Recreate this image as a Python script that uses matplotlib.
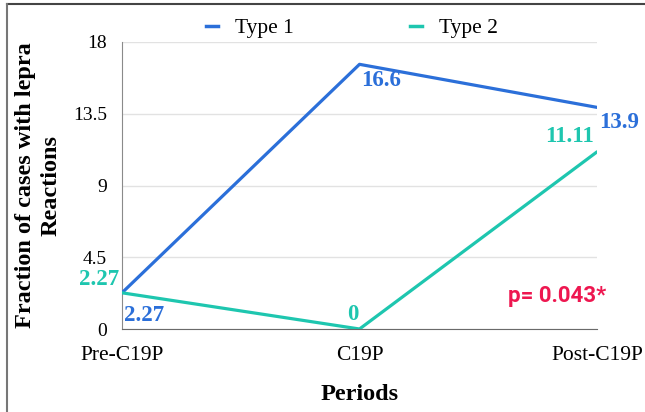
import matplotlib
matplotlib.use("Agg")
import matplotlib.pyplot as plt
from matplotlib.lines import Line2D

periods = ["Pre-C19P", "C19P", "Post-C19P"]
type1 = [2.27, 16.6, 13.9]
type2 = [2.27, 0, 11.11]
yticks = [0, 4.5, 9, 13.5, 18]
ytick_labels = ["0", "4.5", "9", "13.5", "18"]

blue = "#2b6fd9"
teal = "#1ec6af"
red = "#ee1750"
serif = "Liberation Serif"

fig = plt.figure(figsize=(6.45, 4.12), dpi=100)
ax = fig.add_axes([122 / 645, 1 - 329 / 412, 475 / 645, 287 / 412])

x = list(range(len(periods)))
ax.plot(x, type1, color=blue, lw=2.3, solid_capstyle="round", zorder=3)
ax.plot(x, type2, color=teal, lw=2.3, solid_capstyle="round", zorder=3)

ax.set_xlim(0, 2)
ax.set_ylim(0, 18)
ax.set_xticks(x)
ax.set_xticklabels(periods, fontfamily=serif, fontsize=15.5)
ax.set_yticks(yticks)
ax.set_yticklabels(ytick_labels, fontfamily=serif, fontsize=14)
ax.tick_params(axis="both", length=0)
ax.tick_params(axis="x", pad=12)
ax.tick_params(axis="y", pad=11)
ax.grid(axis="y", color="#e2e2e2", lw=1)
ax.set_axisbelow(True)
for s in ["top", "right"]:
    ax.spines[s].set_visible(False)
ax.spines["left"].set_color("#8a8a8a")
ax.spines["bottom"].set_color("#6a6a6a")

ax.set_xlabel("Periods", fontfamily=serif, fontsize=17.5, fontweight="bold", labelpad=14)
ax.set_ylabel("Fraction of cases with lepra\nReactions", fontfamily=serif, fontsize=17.5,
              fontweight="bold", linespacing=1.3, labelpad=8)

# value labels (offsets in pixels)
lab1 = [(2, -23, "left"), (2, -16, "left"), (2, -15, "left")]
lab2 = [(-3, 13, "right"), (-7, 14, "center"), (-3, 15, "right")]
for i in x:
    dx, dy, ha = lab1[i]
    ax.annotate(f"{type1[i]:g}", (i, type1[i]), xytext=(dx, dy), textcoords="offset pixels",
                ha=ha, va="center", color=blue, fontfamily=serif, fontsize=16.5,
                fontweight="bold", annotation_clip=False)
    dx, dy, ha = lab2[i]
    ax.annotate(f"{type2[i]:g}", (i, type2[i]), xytext=(dx, dy), textcoords="offset pixels",
                ha=ha, va="center", color=teal, fontfamily=serif, fontsize=16.5,
                fontweight="bold", annotation_clip=False)

ax.text(0.813, 0.115, "p= 0.043*", transform=ax.transAxes, color=red,
        fontfamily="Roboto", fontsize=16, fontweight="bold", ha="left", va="center")

handles = [Line2D([], [], color=blue, lw=2.5), Line2D([], [], color=teal, lw=2.5)]
fig.legend(handles, ["Type 1", "Type 2"], loc="center", bbox_to_anchor=(352 / 645, 1 - 28 / 412),
           ncol=2, frameon=False, handlelength=0.55, handletextpad=0.8, columnspacing=5.4,
           prop={"family": serif, "size": 15.5})

# frame lines of the original picture
fig.add_artist(Line2D([7 / 645, 1], [1 - 4 / 412, 1 - 4 / 412], transform=fig.transFigure,
                      color="#444444", lw=1.5))
fig.add_artist(Line2D([7 / 645, 7 / 645], [0, 1 - 4 / 412], transform=fig.transFigure,
                      color="#777777", lw=1.5))

fig.savefig("out.png", dpi=100)
